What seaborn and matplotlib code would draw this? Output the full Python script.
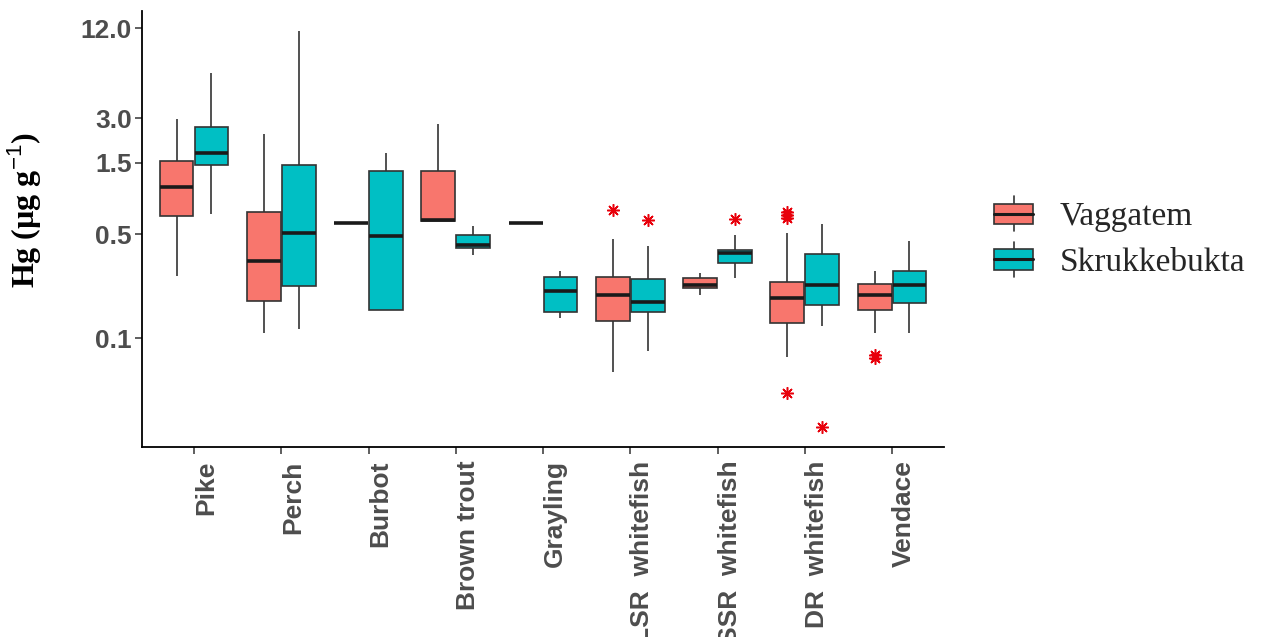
import numpy as np
import pandas as pd
import matplotlib
matplotlib.use("Agg")
import matplotlib.pyplot as plt
import matplotlib.transforms as mtransforms
from matplotlib.legend_handler import HandlerBase
from matplotlib.patches import Rectangle, Patch
from matplotlib.lines import Line2D
import seaborn as sns

# ---- data: Hg (µg/g) per species and site, as box summaries ----
species = ["Pike", "Perch", "Burbot", "Brown trout", "Grayling",
           "LSR  whitefish", "SSR  whitefish", "DR  whitefish", "Vendace"]
sites = ["Vaggatem", "Skrukkebukta"]
site_colors = ["#F8766D", "#00BFC4"]

vag_low    = [0.262, 0.108, 0.59, 0.615, 0.59, 0.0597, 0.195, 0.0753, 0.108]
vag_q1     = [0.66,  0.178, 0.59, 0.615, 0.59, 0.131,  0.216, 0.127,  0.155]
vag_median = [1.04,  0.33,  0.59, 0.625, 0.59, 0.195,  0.228, 0.187,  0.195]
vag_q3     = [1.55,  0.706, 0.59, 1.32,  0.59, 0.256,  0.254, 0.239,  0.231]
vag_high   = [2.94,  2.34,  0.59, 2.74,  0.59, 0.461,  0.273, 0.511,  0.284]
vag_outliers = {"LSR  whitefish": [0.72],
                "DR  whitefish": [0.64, 0.67, 0.70, 0.0432],
                "Vendace": [0.074, 0.077]}

skr_low    = [0.683, 0.115, 0.155, 0.362, 0.136, 0.0826, 0.252, 0.120, 0.108]
skr_q1     = [1.46,  0.224, 0.155, 0.404, 0.149, 0.149,  0.318, 0.166, 0.172]
skr_median = [1.74,  0.506, 0.485, 0.423, 0.209, 0.176,  0.372, 0.228, 0.228]
skr_q3     = [2.63,  1.46,  1.32,  0.491, 0.256, 0.249,  0.391, 0.366, 0.283]
skr_high   = [6.04,  11.56, 1.74,  0.566, 0.284, 0.418,  0.493, 0.584, 0.452]
skr_outliers = {"LSR  whitefish": [0.621],
                "SSR  whitefish": [0.628],
                "DR  whitefish": [0.0255]}

ytick_values = [0.1, 0.5, 1.5, 3.0, 12.0]
ytick_labels = ["0.1", "0.5", "1.5", "3.0", "12.0"]

# seaborn derives box statistics from observations: each summary value is
# given equal weight so the quartiles and whisker ends fall on the values above
REPEAT = 20
rows = []
for site, lo, q1, med, q3, hi, outs in [
        (sites[0], vag_low, vag_q1, vag_median, vag_q3, vag_high, vag_outliers),
        (sites[1], skr_low, skr_q1, skr_median, skr_q3, skr_high, skr_outliers)]:
    for i, sp in enumerate(species):
        values = list(np.repeat([lo[i], q1[i], med[i], q3[i], hi[i]], REPEAT))
        values += outs.get(sp, [])
        rows += [{"species": sp, "site": site, "hg": v} for v in values]
df = pd.DataFrame(rows)

sns.set_theme(style="white")
plt.rcParams["font.family"] = ["Liberation Sans", "DejaVu Sans"]
plt.rcParams["mathtext.fontset"] = "custom"
plt.rcParams["mathtext.rm"] = "Liberation Sans"
plt.rcParams["mathtext.it"] = "Liberation Sans"
plt.rcParams["mathtext.bf"] = "Liberation Sans:bold"

W, H = 1261, 637
fig = plt.figure(figsize=(W / 100, H / 100), dpi=100)
ax_left, ax_right, ax_top, ax_bottom = 141.65, 944.4, 11, 446.5
ax = fig.add_axes([ax_left / W, 1 - ax_bottom / H,
                   (ax_right - ax_left) / W, (ax_bottom - ax_top) / H])

edge = "#333333"
sns.boxplot(data=df, x="species", y="hg", hue="site",
            order=species, hue_order=sites, palette=site_colors,
            saturation=1, log_scale=True, width=0.8, gap=0.03,
            linewidth=1.2, linecolor=edge, showcaps=False,
            medianprops=dict(color="#1a1a1a", linewidth=2.6),
            flierprops=dict(marker=(8, 2, 0), markeredgecolor="#E8000B",
                            markerfacecolor="#E8000B", markersize=9,
                            markeredgewidth=1.1),
            legend=False, ax=ax)

ax.set_ylim(0.0188, 15.67)
ax.set_xlim(-0.6, 8.6)
ax.set_yticks(ytick_values)
ax.set_yticklabels(ytick_labels)
ax.yaxis.set_minor_locator(matplotlib.ticker.NullLocator())
ax.set_xlabel("")
ax.set_ylabel(r"Hg (µg g$^{-1}$)", family="Liberation Serif",
              fontweight="bold", fontsize=23, color="black")
ax.yaxis.set_label_coords((44 - ax_left) / (ax_right - ax_left),
                          (ax_bottom - 210) / (ax_bottom - ax_top))

for side in ["top", "right"]:
    ax.spines[side].set_visible(False)
for side in ["left", "bottom"]:
    ax.spines[side].set_color("black")
    ax.spines[side].set_linewidth(1.3)

ax.tick_params(axis="both", which="major", direction="out", length=5,
               width=1.1, color=edge, labelsize=19, labelcolor="#4D4D4D",
               left=True, bottom=True)
ax.tick_params(axis="y", pad=2)
ax.tick_params(axis="x", pad=5)
for lbl in ax.get_yticklabels():
    lbl.set_fontweight("bold")
offset = mtransforms.ScaledTranslation(12 / 100, 0, fig.dpi_scale_trans)
for lbl in ax.get_xticklabels():
    lbl.set_fontweight("bold")
    lbl.set_rotation(90)
    lbl.set_ha("center")
    lbl.set_va("top")
    lbl.set_transform(lbl.get_transform() + offset)


class BoxKeyHandler(HandlerBase):
    """Legend key drawn as a small box with median line and whisker."""

    def create_artists(self, legend, orig_handle, xdescent, ydescent,
                       width, height, fontsize, trans):
        x0, y0 = -xdescent, -ydescent
        cx = x0 + width / 2
        box_h = height * 0.59
        by = y0 + (height - box_h) / 2
        whisker = Line2D([cx, cx], [y0, y0 + height], color=edge, lw=1.2,
                         transform=trans)
        rect = Rectangle((x0, by), width, box_h,
                         facecolor=orig_handle.get_facecolor(),
                         edgecolor=edge, lw=1.2, transform=trans)
        median = Line2D([x0, x0 + width], [by + box_h / 2] * 2,
                        color="#1a1a1a", lw=2.2, transform=trans)
        return [whisker, rect, median]


legend_pt = 24
legend_px = legend_pt * 100 / 72
handles = [Patch(facecolor=c) for c in site_colors]
fig.legend(handles=handles, labels=sites,
           handler_map={Patch: BoxKeyHandler()},
           loc="center left", bbox_to_anchor=(994 / W, 1 - 237 / H),
           frameon=False, borderpad=0, borderaxespad=0,
           handlelength=39 / legend_px, handleheight=41 / legend_px,
           handletextpad=0.8, labelspacing=0.3,
           prop=dict(family="Liberation Serif", size=legend_pt))

fig.savefig("out.png", dpi=100)
